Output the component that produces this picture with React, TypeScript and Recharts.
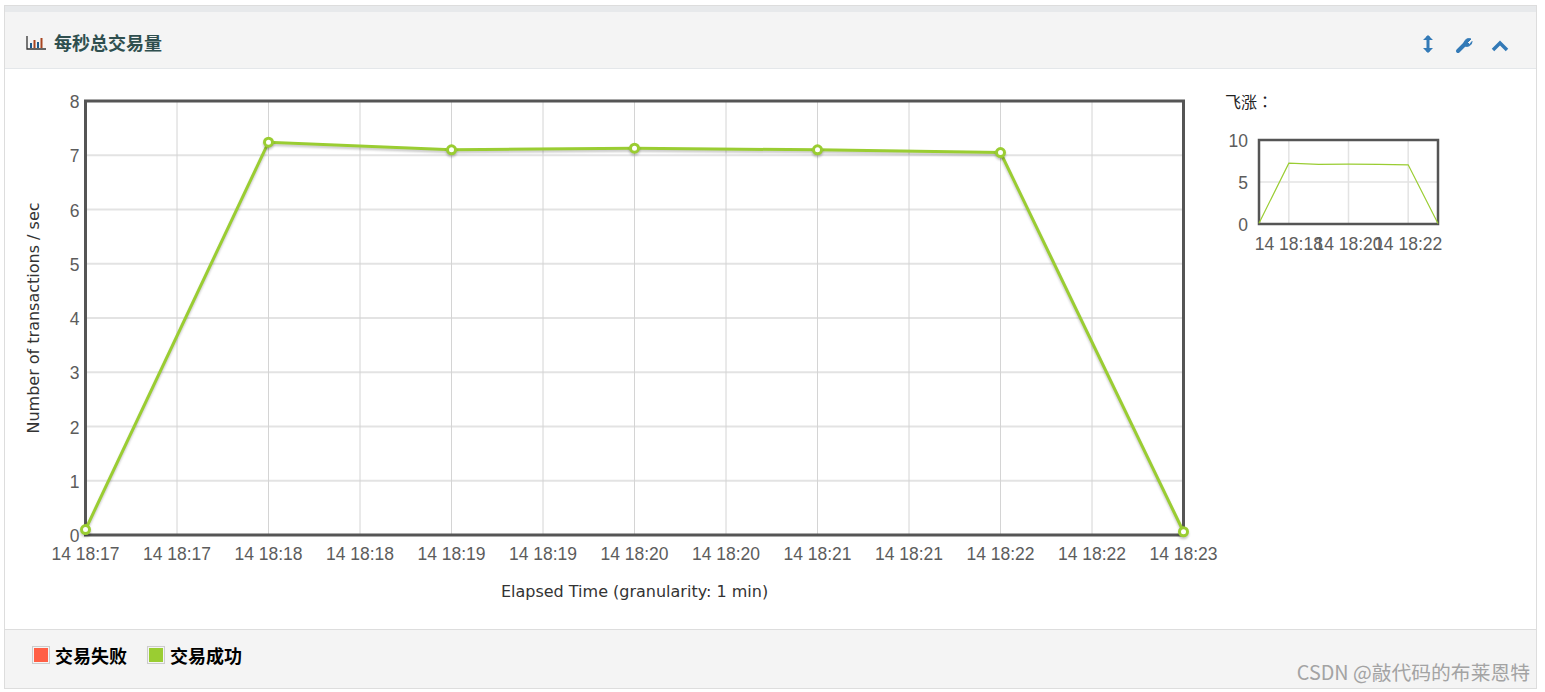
import React from 'react';
import { LineChart, Line, XAxis, YAxis, CartesianGrid, ReferenceArea } from 'recharts';

const minutes = [0, 1, 2, 3, 4, 5, 6];
const successValues = [0.1, 7.24, 7.1, 7.13, 7.1, 7.05, 0.06];
const mainXTicks = [0, 0.5, 1, 1.5, 2, 2.5, 3, 3.5, 4, 4.5, 5, 5.5, 6];
const mainXLabels = [
  '14 18:17', '14 18:17', '14 18:18', '14 18:18', '14 18:19', '14 18:19', '14 18:20',
  '14 18:20', '14 18:21', '14 18:21', '14 18:22', '14 18:22', '14 18:23',
];
const mainYTicks = [0, 1, 2, 3, 4, 5, 6, 7, 8];
const miniXTicks = [1, 3, 5];
const miniXLabels = ['14 18:18', '14 18:20', '14 18:22'];
const miniYTicks = [0, 5, 10];
const legendNames = ['交易失败', '交易成功'];
const legendColors = ['#ff5f45', '#9acd32'];

const data = minutes.map((m, i) => ({ m, success: successValues[i] }));

const ARIAL = '"Liberation Sans", Arial, sans-serif';
const CJK = '"Noto Sans CJK SC", sans-serif';
const LINE = '#9acd32';
const AXIS = '#555555';
const TICK_TEXT = '#5c5c5c';

const mainLabel = (v: number) => mainXLabels[mainXTicks.indexOf(v)];
const miniLabel = (v: number) => miniXLabels[miniXTicks.indexOf(v)];

const HeaderIcons = () => (
  <svg width={1545} height={692} style={{ position: 'absolute', left: 0, top: 0, pointerEvents: 'none' }}>
    {/* bar chart icon */}
    <path d="M27 36V49H46" fill="none" stroke="#333" strokeWidth={1.3} />
    <rect x={30} y={43} width={2} height={5} fill="#1f5a8c" />
    <rect x={33.5} y={40} width={2} height={8} fill="#a8441f" />
    <rect x={37} y={42} width={2} height={6} fill="#1f5a8c" />
    <rect x={40.5} y={38} width={2} height={10} fill="#a8441f" />
    {/* resize */}
    <path d="M1428 36V52" stroke="#337ab7" strokeWidth={3} />
    <path d="M1423 40L1428 35L1433 40ZM1423 48L1428 53L1433 48Z" fill="#337ab7" />
    {/* wrench */}
    <path d="M1458 51L1466 43" stroke="#337ab7" strokeWidth={4} strokeLinecap="round" />
    <path d="M1464 44A5 5 0 0 1 1471 39L1467.5 42.5L1469.5 44.5L1472 41.5A5 5 0 0 1 1465 46Z" fill="#337ab7" stroke="#337ab7" />
    {/* chevron */}
    <path d="M1493 50L1500 43L1507 50" fill="none" stroke="#337ab7" strokeWidth={3.5} />
  </svg>
);

export default function App() {
  return (
    <div style={{ position: 'absolute', left: 0, top: 0, width: 1545, height: 692, background: '#fff', overflow: 'hidden' }}>
      {/* panel */}
      <div style={{ position: 'absolute', left: 4, top: 5, width: 1531, height: 682, border: '1px solid #dddddd' }} />
      <div style={{ position: 'absolute', left: 5, top: 6, width: 1531, height: 6, background: '#e7e9eb' }} />
      <div style={{ position: 'absolute', left: 5, top: 12, width: 1531, height: 56, background: '#f4f4f4', borderBottom: '1px solid #e4e7ea' }} />
      <div style={{ position: 'absolute', left: 5, top: 629, width: 1531, height: 59, background: '#f4f4f4', borderTop: '1px solid #dddddd', boxSizing: 'border-box' }} />
      <div style={{ position: 'absolute', left: 54, top: 29, fontFamily: CJK, fontWeight: 700, fontSize: 18, lineHeight: '26px', color: '#2f4f4f' }}>每秒总交易量</div>
      <HeaderIcons />

      {/* main chart */}
      <div style={{ position: 'absolute', left: 0, top: 0 }}>
        <LineChart
          width={1240}
          height={620}
          data={data}
          margin={{ top: 101, right: 56.5, bottom: 55, left: 45.5 }}
        >
          <CartesianGrid stroke="#e3e3e3" strokeWidth={2} vertical={false} />
          <CartesianGrid stroke="#d4d4d4" strokeWidth={1} horizontal={false} />
          <XAxis
            dataKey="m"
            type="number"
            domain={[0, 6]}
            ticks={mainXTicks}
            tickFormatter={mainLabel}
            interval={0}
            height={30}
            axisLine={false}
            tickLine={false}
            tickMargin={7}
            tick={{ fill: TICK_TEXT, fontSize: 17.5, fontFamily: ARIAL }}
            label={{ value: 'Elapsed Time (granularity: 1 min)', position: 'bottom', offset: 21, fill: '#333', fontSize: 16, fontFamily: '"DejaVu Sans", sans-serif' }}
          />
          <YAxis
            type="number"
            domain={[0, 8]}
            ticks={mainYTicks}
            interval={0}
            width={40}
            axisLine={false}
            tickLine={false}
            tickMargin={0}
            tick={{ fill: TICK_TEXT, fontSize: 17.5, fontFamily: ARIAL, dy: 1 }}
            label={{ value: 'Number of transactions / sec', angle: -90, position: 'left', offset: 0, dx: -12, textAnchor: 'middle', fill: '#333', fontSize: 16, fontFamily: '"DejaVu Sans", sans-serif' }}
          />
          <ReferenceArea x1={0} x2={6} y1={0} y2={8} fill="none" stroke={AXIS} strokeWidth={3} ifOverflow="visible" />
          <Line
            dataKey="success"
            stroke={LINE}
            strokeWidth={3}
            dot={{ r: 4, fill: '#ffffff', stroke: LINE, strokeWidth: 3 }}
            isAnimationActive={false}
            style={{ filter: 'drop-shadow(0 2px 1px rgba(0,0,0,0.22))' }}
          />
        </LineChart>
      </div>

      <div style={{ position: 'absolute', left: 1225, top: 89, fontFamily: '"Noto Sans CJK TC", sans-serif', fontSize: 16, lineHeight: '24px', color: '#222' }}>飞涨：</div>

      {/* mini overview */}
      <div style={{ position: 'absolute', left: 1210, top: 120 }}>
        <LineChart
          width={270}
          height={150}
          data={data}
          margin={{ top: 20, right: 42, bottom: 21, left: 9 }}
        >
          <CartesianGrid stroke="#e3e3e3" strokeWidth={1.5} />
          <XAxis
            dataKey="m"
            type="number"
            domain={[0, 6]}
            ticks={miniXTicks}
            tickFormatter={miniLabel}
            interval={0}
            height={25}
            axisLine={false}
            tickLine={false}
            tickMargin={8}
            tick={{ fill: TICK_TEXT, fontSize: 17.5, fontFamily: ARIAL }}
          />
          <YAxis
            type="number"
            domain={[0, 10]}
            ticks={miniYTicks}
            interval={0}
            width={40}
            axisLine={false}
            tickLine={false}
            tickMargin={5}
            tick={{ fill: TICK_TEXT, fontSize: 17.5, fontFamily: ARIAL, dy: 1 }}
          />
          <ReferenceArea x1={0} x2={6} y1={0} y2={10} fill="none" stroke={AXIS} strokeWidth={2.5} ifOverflow="visible" />
          <Line dataKey="success" stroke={LINE} strokeWidth={1.2} dot={false} isAnimationActive={false} />
        </LineChart>
      </div>

      {/* legend */}
      {legendNames.map((name, i) => (
        <div key={name} style={{ position: 'absolute', left: i === 0 ? 32 : 147, top: 645, display: 'flex', alignItems: 'center', height: 20 }}>
          <span style={{ display: 'inline-block', width: 14, height: 14, background: legendColors[i], border: '1px solid #ccc', padding: 1, backgroundClip: 'content-box', marginRight: 5 }} />
          <span style={{ fontFamily: CJK, fontWeight: 700, fontSize: 18, color: '#000' }}>{name}</span>
        </div>
      ))}

      <div style={{ position: 'absolute', right: 15, top: 659, fontFamily: CJK, fontSize: 19.8, lineHeight: '26px', color: '#a3a3a3' }}>CSDN @敲代码的布莱恩特</div>
    </div>
  );
}
